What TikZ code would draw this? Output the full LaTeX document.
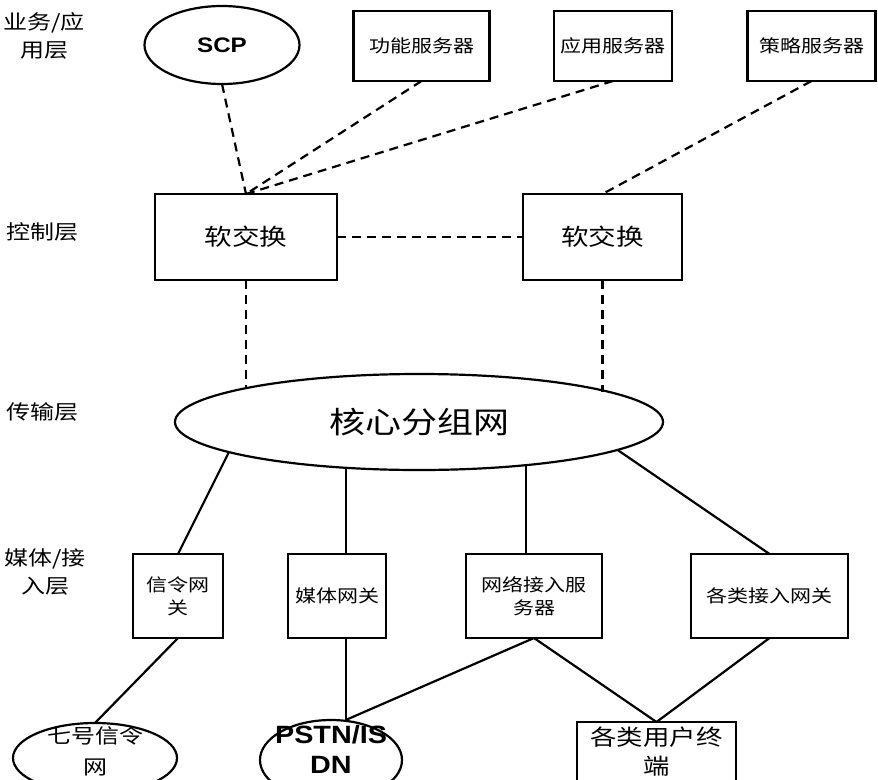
\documentclass[tikz,border=0pt]{standalone}
\usepackage{fontspec}
\usetikzlibrary{shapes.geometric,calc}
\newfontfamily\cjk[FakeStretch=1.2]{Noto Sans CJK SC}
\newfontfamily\lat[FakeStretch=1.15]{Liberation Sans}
\begin{document}
\begin{tikzpicture}[x=1pt,y=-1pt, line width=2.2pt,
  box/.style={draw, rectangle, inner sep=0pt, outer sep=0pt, align=center},
  oval/.style={draw, ellipse, inner sep=0pt, outer sep=0pt, align=center},
  dline/.style={dash pattern=on 9pt off 6pt},
  layer/.style={font=\cjk\fontsize{20}{28}\selectfont, align=center, inner sep=0pt},
  small/.style={font=\cjk\fontsize{17.5}{23}\selectfont},
  mid/.style={font=\cjk\fontsize{23}{30}\selectfont},
  latin/.style={font=\lat\bfseries\fontsize{21}{26}\selectfont}]
\useasboundingbox (0,0) rectangle (878,779);
% layer labels
\node[layer] (l1) at (44,36) {业务/应\\用层};
\node[layer] (l2) at (42,232) {控制层};
\node[layer] (l3) at (42,412) {传输层};
\node[layer] (l4) at (45,572) {媒体/接\\入层};
% top row
\node[oval, latin, minimum width=155pt, minimum height=78pt] (scp) at (222,45) {SCP};
\node[box, small, minimum width=136pt, minimum height=70pt] (f1) at (421.5,46) {功能服务器};
\node[box, small, minimum width=118pt, minimum height=70pt] (f2) at (613,46) {应用服务器};
\node[box, small, minimum width=128pt, minimum height=70pt] (f3) at (811.5,46) {策略服务器};
% control
\node[box, mid, minimum width=182pt, minimum height=86pt] (ss1) at (246,237) {软交换};
\node[box, mid, minimum width=159pt, minimum height=86pt] (ss2) at (602.5,237) {软交换};
% core
\node[oval, font=\cjk\fontsize{30}{36}\selectfont, minimum width=488pt, minimum height=96pt] (core) at (419,422) {核心分组网};
% media
\node[box, small, minimum width=90pt, minimum height=84pt] (g1) at (178,596) {信令网\\关};
\node[box, small, minimum width=98pt, minimum height=84pt] (g2) at (337,596) {媒体网关};
\node[box, small, minimum width=136pt, minimum height=84pt] (g3) at (534,596) {网络接入服\\务器};
\node[box, small, minimum width=157pt, minimum height=84pt] (g4) at (769.5,596) {各类接入网关};
% bottom
\node[oval, minimum width=164pt, minimum height=70pt] (b1) at (95,758) {};
\node[font=\cjk\fontsize{20}{31}\selectfont, align=center, inner sep=0pt] (b1t) at (95,751) {七号信令\\网};
\node[oval, minimum width=142pt, minimum height=80pt] (b2) at (331,760) {};
\node[font=\lat\bfseries\fontsize{25}{30}\selectfont, align=center, inner sep=0pt] (b2t) at (331,749) {PSTN/IS\\DN};
\node[inner sep=0pt, outer sep=0pt, minimum width=159pt, minimum height=60pt] (b3) at (656.5,752) {};
\node[font=\cjk\fontsize{22}{29}\selectfont, align=center, inner sep=0pt] (b3t) at (656.5,752) {各类用户终\\端};
\draw (b3.south west) -- (b3.north west) -- (b3.north east) -- (b3.south east);
% dashed links
\draw[dline] (scp.south) -- (ss1.north);
\draw[dline] (f1.south) -- (ss1.north);
\draw[dline] (f2.south) -- (ss1.north);
\draw[dline] (f3.south) -- (ss2.north);
\draw[dline] (ss1.east) -- (ss2.west);
\draw[dline] (ss1.south) -- (ss1.south |- core.168.7);
\draw[dline] (ss2.south) -- (ss2.south |- core.9.9);
% solid links
\draw (core.189.9) -- (g1.north);
\draw (core.212.3) -- (core.212.3 |- g2.north);
\draw (core.338.6) -- (core.338.6 |- g3.north);
\draw (core.352.7) -- (g4.north);
\draw (g1.south) -- (b1.north);
\draw (core.212.3 |- g2.south) -- (core.212.3 |- b2.north);
\draw (g3.south) -- (core.212.3 |- b2.north);
\draw (g3.south) -- (b3.north);
\draw (g4.south) -- (b3.north);
\end{tikzpicture}
\end{document}
